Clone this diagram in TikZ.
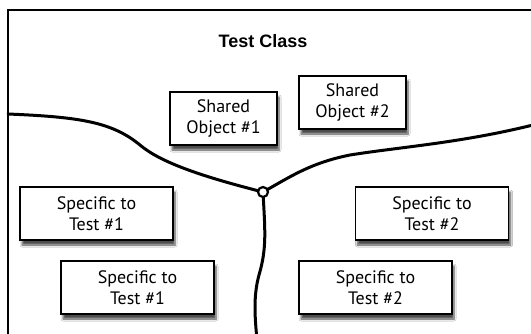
\documentclass[tikz,border=0pt]{standalone}
\usepackage{fontspec}
\setmainfont{PT Sans}
\newfontfamily\titlefont{Liberation Sans}
\usetikzlibrary{shadows.blur}
\begin{document}
\begin{tikzpicture}[x=1pt,y=-1pt,
  box/.style={draw=black, line width=1.6pt, fill=white, minimum width=107pt, minimum height=53pt,
    align=center, inner sep=0pt, font=\fontsize{18}{21}\selectfont,
    blur shadow={shadow xshift=2pt, shadow yshift=-5pt, shadow blur steps=6, shadow opacity=70}},
  wide/.style={box, minimum width=153pt},
  curve/.style={line width=3pt, line cap=round},
  frame/.style={line width=1.4pt}]
\useasboundingbox (0,0) rectangle (531,333);
\fill[white] (0,0) rectangle (531,333);
\coordinate (fbl) at (8,340);
\coordinate (ftl) at (8,10);
\coordinate (ftr) at (540,10);
\draw[frame] (fbl) -- (ftl) -- (ftr);

\node[font=\titlefont\bfseries\fontsize{18}{20}\selectfont] (title) at (263,41) {Test Class};

\node[box] (so1) at (223.5,118.5) {Shared\\Object \#1};
\node[box] (so2) at (352.5,102.5) {Shared\\Object \#2};
\node[wide] (st1a) at (96.5,213.5) {Specific to\\Test \#1};
\node[wide] (st2a) at (432,213.5) {Specific to\\Test \#2};
\node[wide] (st1b) at (137.5,287.5) {Specific to\\Test \#1};
\node[wide] (st2b) at (375.5,287.5) {Specific to\\Test \#2};

\coordinate (J) at (263,192);
\coordinate (lend) at (8,114);
\coordinate (rend) at (533,125);
\coordinate (bend) at (257,340);

\draw[curve] (lend) .. controls (80,117) and (112,122) .. (140,145)
  .. controls (160,162) and (200,176) .. (J);
\draw[curve] (J) .. controls (290,177) and (310,163) .. (350,155)
  .. controls (400,147) and (460,143) .. (rend);
\draw[curve] (J) .. controls (265,230) and (267,248) .. (259,275)
  .. controls (253,297) and (255,318) .. (bend);
\node[circle, draw=black, line width=2.2pt, fill=white, minimum size=10pt, inner sep=0pt] (jc) at (J) {};
\end{tikzpicture}
\end{document}
